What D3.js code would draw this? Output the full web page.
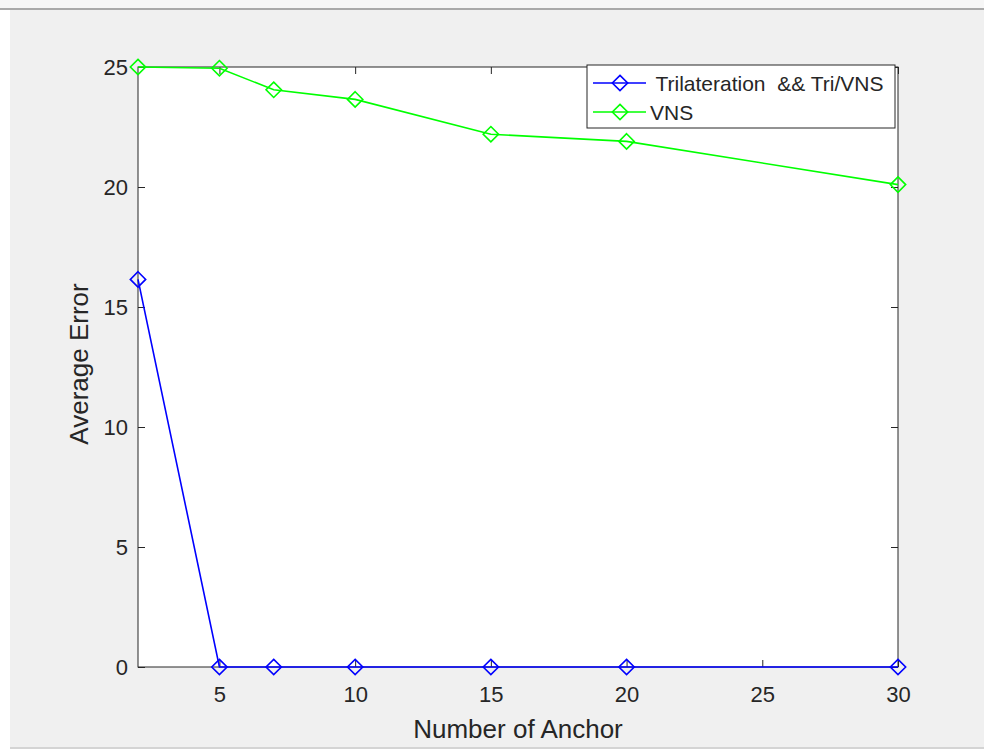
<!DOCTYPE html>
<html>
<head>
<meta charset="utf-8">
<script src="https://cdn.jsdelivr.net/npm/d3@7"></script>
<style>
  body { margin: 0; background: #fff; }
  text { font-family: "Liberation Sans", Arial, Helvetica, sans-serif; fill: #262626; }
</style>
</head>
<body>
<div id="chart"></div>
<script>
// data
const anchors = [2, 5, 7, 10, 15, 20, 30]
const triErr = [16.15, 0, 0, 0, 0, 0, 0]
const vnsErr = [25, 24.95, 24.05, 23.65, 22.2, 21.9, 20.1]
const seriesNames = [" Trilateration  && Tri/VNS", "VNS"]
const seriesColors = ["#0000ff", "#00ff00"]
const xTicks = [5, 10, 15, 20, 25, 30]
const yTicks = [0, 5, 10, 15, 20, 25]

const width = 984
const height = 749
const margin = {top: 67, right: 86, bottom: 82, left: 138}
const w = width - margin.left - margin.right
const h = height - margin.top - margin.bottom
const tickLen = 7

const svg = d3.select("#chart").append("svg")
  .attr("width", width)
  .attr("height", height)

// window frame
svg.append("rect").attr("x", 10).attr("y", 10).attr("width", width - 10).attr("height", 737).attr("fill", "#f0f0f0")
svg.append("rect").attr("x", 0).attr("y", 0).attr("width", width).attr("height", 8).attr("fill", "#f6f6f6")
svg.append("rect").attr("x", 0).attr("y", 8).attr("width", width).attr("height", 2).attr("fill", "#a9a9a9")
svg.append("rect").attr("x", 10).attr("y", 747).attr("width", width - 10).attr("height", 2).attr("fill", "#d4d4d4")

const g = svg.append("g").attr("transform", "translate(" + margin.left + "," + margin.top + ")")

const x = d3.scaleLinear().domain([2, 30]).range([0, w])
const y = d3.scaleLinear().domain([0, 25]).range([h, 0])

g.append("rect").attr("width", w).attr("height", h).attr("fill", "#fff")

// axes, ticks pointing inwards like matlab
const styleAxis = sel => {
  sel.select(".domain").remove()
  sel.selectAll(".tick line").attr("stroke", "#262626")
  sel.selectAll("text").style("font-size", "22px").attr("fill", "#262626")
}

g.append("g").attr("transform", "translate(0," + h + ")")
  .call(d3.axisBottom(x).tickValues(xTicks).tickSizeInner(-tickLen).tickSizeOuter(0).tickPadding(19))
  .call(styleAxis)
g.append("g")
  .call(d3.axisTop(x).tickValues(xTicks).tickSizeInner(-tickLen).tickSizeOuter(0).tickFormat(""))
  .call(styleAxis)
g.append("g")
  .call(d3.axisLeft(y).tickValues(yTicks).tickSizeInner(-tickLen).tickSizeOuter(0).tickPadding(10))
  .call(styleAxis)
g.append("g").attr("transform", "translate(" + w + ",0)")
  .call(d3.axisRight(y).tickValues(yTicks).tickSizeInner(-tickLen).tickSizeOuter(0).tickFormat(""))
  .call(styleAxis)

g.append("rect").attr("width", w).attr("height", h)
  .attr("fill", "none").attr("stroke", "#262626").attr("stroke-width", 1)

// axis labels
g.append("text")
  .attr("x", w / 2).attr("y", h + 71)
  .attr("text-anchor", "middle")
  .style("font-size", "26px")
  .text("Number of Anchor")
g.append("text")
  .attr("transform", "translate(-50," + (h / 2 - 3) + ") rotate(-90)")
  .attr("text-anchor", "middle")
  .style("font-size", "26px")
  .text("Average Error")

const diamond = d3.symbol().type(d3.symbolDiamond2).size(150)

const series = [triErr, vnsErr]
const line = d3.line().x((d, i) => x(anchors[i])).y(d => y(d))

series.forEach((vals, k) => {
  g.append("path")
    .datum(vals)
    .attr("fill", "none")
    .attr("stroke", seriesColors[k])
    .attr("stroke-width", 1.6)
    .attr("d", line)
  g.selectAll(".m" + k)
    .data(vals)
    .enter().append("path")
    .attr("class", "m" + k)
    .attr("transform", (d, i) => "translate(" + x(anchors[i]) + "," + y(d) + ")")
    .attr("d", diamond)
    .attr("fill", "none")
    .attr("stroke", seriesColors[k])
    .attr("stroke-width", 1.6)
})

// legend
const lg = svg.append("g").attr("transform", "translate(587,65)")
lg.append("rect").attr("width", 308).attr("height", 63)
  .attr("fill", "#fff").attr("stroke", "#262626").attr("stroke-width", 1)
seriesNames.forEach((name, k) => {
  const ry = 18 + k * 29
  lg.append("line").attr("x1", 6).attr("x2", 59).attr("y1", ry).attr("y2", ry)
    .attr("stroke", seriesColors[k]).attr("stroke-width", 1.6)
  lg.append("path").attr("transform", "translate(33," + ry + ")")
    .attr("d", diamond).attr("fill", "none")
    .attr("stroke", seriesColors[k]).attr("stroke-width", 1.6)
  lg.append("text").attr("x", 63).attr("y", ry).attr("dy", "0.36em")
    .style("font-size", "21px").style("white-space", "pre")
    .text(name)
})
</script>
</body>
</html>
